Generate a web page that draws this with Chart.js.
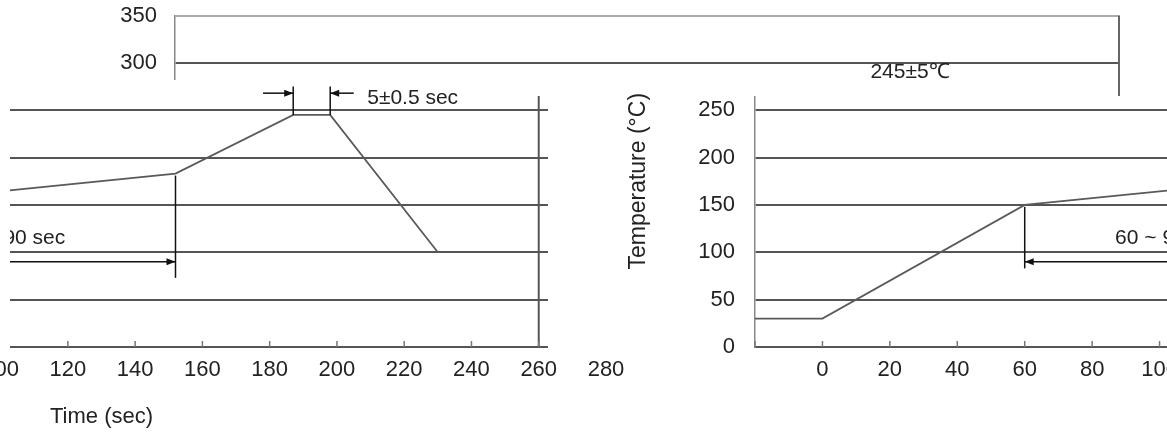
<!DOCTYPE html>
<html>
<head>
<meta charset="utf-8">
<title>Reflow profile</title>
<script src="https://cdn.jsdelivr.net/npm/chart.js@4.4.1/dist/chart.umd.min.js"></script>
<style>
    html, body { margin: 0; padding: 0; background: #fff; }
    body { width: 1167px; height: 435px; overflow: hidden; position: relative; }
    .tile { position: absolute; left: 0; top: 0; width: 1167px; height: 435px; overflow: hidden; }
    .tile canvas { position: absolute; top: 0; }
    #tileTop { clip-path: polygon(0 0, 1167px 0, 1167px 96px, 740px 96px, 740px 80px, 0 80px); }
    #tileLeft { clip-path: polygon(10px 80px, 548px 80px, 548px 358px, 645px 358px, 645px 435px, 0 435px, 0 358px, 10px 358px); }
    #tileRight { clip-path: polygon(560px 80px, 740px 80px, 740px 96px, 1167px 96px, 1167px 435px, 645px 435px, 645px 358px, 560px 358px); }
</style>
</head>
<body>
<div class="tile" id="tileTop"><canvas id="chartTop"></canvas></div>
<div class="tile" id="tileLeft"><canvas id="chartLeft"></canvas></div>
<div class="tile" id="tileRight"><canvas id="chartRight"></canvas></div>
<script>
// reflow profile (time in sec, temperature in °C)
const timeSec = [-20, 0, 60, 152, 187, 198, 230];
const tempC = [30, 30, 150, 183, 245, 245, 100];

const timeTicks = [-20, 0, 20, 40, 60, 80, 100, 120, 140, 160, 180, 200, 220, 240, 260, 280];
const tempTicks = [0, 50, 100, 150, 200, 250, 300, 350];

const peakLabel = '245±5℃';
const peakHoldLabel = '5±0.5 sec';
const preheatLabel = '60 ~ 90 sec';

Chart.defaults.font.family = '"Liberation Sans", Arial, sans-serif';
Chart.defaults.color = '#222';

const preheatStart = timeSec[2];
const preheatEnd = timeSec[3];
const peakStart = timeSec[4];
const peakEnd = timeSec[5];

const notesById = {
    chartTop: [
        { kind: 'vline', x: 280, from: 0, to: 350, color: '#666', width: 2 },
        { kind: 'text', x: 201, y: 290, text: peakLabel, align: 'left' },
    ],
    chartLeft: [
        { kind: 'vline', x: 260, from: 0, to: 265, color: '#555', width: 2 },
        { kind: 'vline', x: peakStart, from: 245, to: 275 },
        { kind: 'vline', x: peakEnd, from: 245, to: 275 },
        { kind: 'arrow', x1: 178, x2: peakStart, y: 268, heads: 'end' },
        { kind: 'arrow', x1: 205, x2: peakEnd, y: 268, heads: 'end' },
        { kind: 'text', x: 209, y: 263, text: peakHoldLabel, align: 'left' },
        { kind: 'vline', x: preheatEnd, from: 73, to: 181 },
        { kind: 'arrow', x1: preheatStart, x2: preheatEnd, y: 90, heads: 'both' },
        { kind: 'text', x: 103, y: 115, text: preheatLabel, align: 'center' },
    ],
    chartRight: [
        { kind: 'vline', x: preheatStart, from: 83, to: 148 },
        { kind: 'arrow', x1: preheatStart, x2: preheatEnd, y: 90, heads: 'both' },
        { kind: 'text', x: 103, y: 115, text: preheatLabel, align: 'center' },
    ],
};

function arrowHead(ctx, tipX, tipY, dir) {
    ctx.beginPath();
    ctx.moveTo(tipX, tipY);
    ctx.lineTo(tipX - dir * 9, tipY - 3.5);
    ctx.lineTo(tipX - dir * 9, tipY + 3.5);
    ctx.closePath();
    ctx.fill();
}

const notesPlugin = {
    id: 'notes',
    afterDatasetsDraw(chart) {
        const items = notesById[chart.canvas.id] || [];
        const { ctx } = chart;
        const x = chart.scales.x;
        const y = chart.scales.y;
        ctx.save();
        items.forEach(n => {
            ctx.strokeStyle = n.color || '#111';
            ctx.fillStyle = n.color || '#111';
            ctx.lineWidth = n.width || 1.5;
            if (n.kind === 'vline') {
                const px = x.getPixelForValue(n.x);
                ctx.beginPath();
                ctx.moveTo(px, y.getPixelForValue(n.from));
                ctx.lineTo(px, y.getPixelForValue(n.to));
                ctx.stroke();
            } else if (n.kind === 'arrow') {
                const p1 = x.getPixelForValue(n.x1);
                const p2 = x.getPixelForValue(n.x2);
                const py = y.getPixelForValue(n.y);
                ctx.beginPath();
                ctx.moveTo(p1, py);
                ctx.lineTo(p2, py);
                ctx.stroke();
                const dir = p2 > p1 ? 1 : -1;
                arrowHead(ctx, p2, py, dir);
                if (n.heads === 'both') arrowHead(ctx, p1, py, -dir);
            } else if (n.kind === 'text') {
                ctx.fillStyle = '#222';
                ctx.font = '21px "Liberation Sans", Arial, sans-serif';
                ctx.textAlign = n.align;
                ctx.textBaseline = 'middle';
                ctx.fillText(n.text, x.getPixelForValue(n.x), y.getPixelForValue(n.y));
            }
        });
        ctx.restore();
    },
};

// small tick marks pointing into the plot
const innerTicks = {
    id: 'innerTicks',
    afterDraw(chart) {
        const { ctx } = chart;
        const x = chart.scales.x;
        const bottom = chart.chartArea.bottom;
        ctx.save();
        ctx.strokeStyle = '#777';
        ctx.lineWidth = 1.5;
        x.ticks.forEach(t => {
            const px = x.getPixelForValue(t.value);
            ctx.beginPath();
            ctx.moveTo(px, bottom);
            ctx.lineTo(px, bottom - 6);
            ctx.stroke();
        });
        ctx.restore();
    },
};

function initProfileChart(id, cfg) {
    const canvas = document.getElementById(id);
    const axisW = 130;
    const axisH = 88;
    const plotTop = 15.5;
    const padRight = 30;
    canvas.width = axisW + (cfg.right - cfg.left) + padRight;
    canvas.height = 435;
    canvas.style.left = (cfg.left - axisW) + 'px';

    new Chart(canvas, {
        type: 'line',
        data: {
            datasets: [{
                data: timeSec.map((t, i) => ({ x: t, y: tempC[i] })),
                borderColor: '#5a5a5a',
                borderWidth: 1.8,
                pointRadius: 0,
                tension: 0,
                fill: false,
            }],
        },
        options: {
            responsive: false,
            animation: false,
            devicePixelRatio: 1,
            layout: { padding: { top: plotTop, right: padRight, left: 0, bottom: 0 } },
            plugins: {
                legend: { display: false },
                tooltip: { enabled: false },
            },
            scales: {
                x: {
                    type: 'linear',
                    min: cfg.min,
                    max: cfg.max,
                    afterFit: s => { s.height = axisH; },
                    afterBuildTicks: s => {
                        s.ticks = timeTicks.filter(v => v >= s.min && v <= s.max).map(v => ({ value: v }));
                    },
                    grid: { display: false, drawTicks: false },
                    border: { display: true, color: '#555', width: 2 },
                    ticks: {
                        padding: 10,
                        color: '#222',
                        font: { size: 22 },
                        maxRotation: 0,
                        autoSkip: false,
                        callback: v => (v === -20 ? '' : v),
                    },
                    title: {
                        display: cfg.xTitle,
                        text: 'Time (sec)',
                        color: '#222',
                        font: { size: 22 },
                        padding: { top: 0, bottom: 5 },
                    },
                },
                y: {
                    min: 0,
                    max: 350,
                    afterFit: s => { s.width = axisW; },
                    afterBuildTicks: s => {
                        s.ticks = tempTicks.map(v => ({ value: v }));
                    },
                    // gap between labels and plot comes from an invisible tick, so it adds no room above the plot
                    grid: {
                        color: c => (c.tick && c.tick.value === 350 ? '#aaa' : '#555'),
                        lineWidth: 2,
                        drawTicks: true,
                        tickLength: cfg.yPad,
                        tickColor: 'rgba(0,0,0,0)',
                    },
                    border: { display: true, color: '#888', width: 1.5 },
                    ticks: {
                        padding: 0,
                        color: '#222',
                        font: { size: 22 },
                    },
                    title: {
                        display: true,
                        text: 'Temperature (°C)',
                        color: '#222',
                        font: { size: 23 },
                        padding: { top: 0, bottom: 0 },
                    },
                },
            },
        },
        plugins: [notesPlugin, innerTicks],
    });
}

initProfileChart('chartTop', { min: -20, max: 280, left: 175, right: 1119, yPad: 18, xTitle: false });
initProfileChart('chartLeft', { min: -20, max: 280, left: -403, right: 606, yPad: 20, xTitle: true });
initProfileChart('chartRight', { min: -20, max: 120, left: 755, right: 1227, yPad: 20, xTitle: false });
</script>
</body>
</html>
